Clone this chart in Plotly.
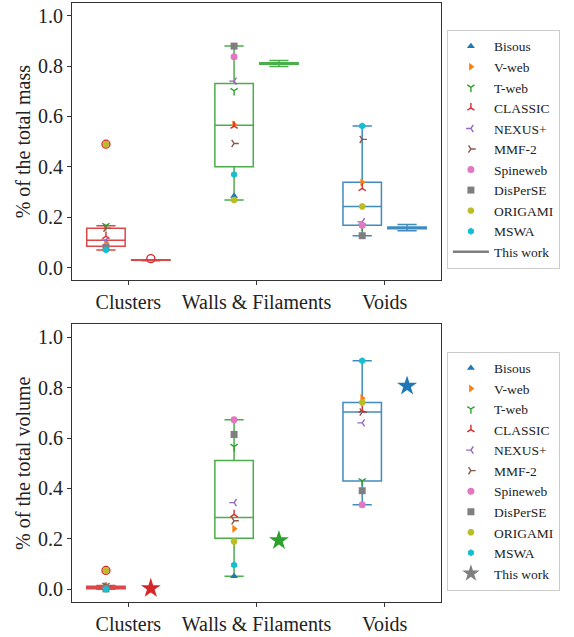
import numpy as np
import plotly.graph_objects as go

# ---------------- data ----------------
categories = ["Clusters", "Walls & Filaments", "Voids"]
methods = ["Bisous", "V-web", "T-web", "CLASSIC", "NEXUS+", "MMF-2",
           "Spineweb", "DisPerSE", "ORIGAMI", "MSWA"]

# fraction of total mass: [Clusters, Walls & Filaments, Voids]
mass_bisous = [None, 0.285, None]
mass_vweb = [0.097, 0.568, 0.339]
mass_tweb = [0.167, 0.702, 0.165]
mass_classic = [0.125, 0.562, 0.315]
mass_nexus = [0.109, 0.740, 0.182]
mass_mmf2 = [0.157, 0.493, 0.509]
mass_spineweb = [0.085, 0.837, 0.168]
mass_disperse = [0.080, 0.879, 0.127]
mass_origami = [0.490, 0.269, 0.243]
mass_mswa = [0.070, 0.370, 0.562]

# fraction of total volume
vol_bisous = [None, 0.052, None]
vol_vweb = [0.005, 0.240, 0.758]
vol_tweb = [0.015, 0.566, 0.430]
vol_classic = [0.009, 0.297, 0.710]
vol_nexus = [0.007, 0.344, 0.660]
vol_mmf2 = [0.012, 0.272, 0.703]
vol_spineweb = [0.003, 0.672, 0.335]
vol_disperse = [0.002, 0.614, 0.391]
vol_origami = [0.075, 0.190, 0.741]
vol_mswa = [0.001, 0.097, 0.906]

# this work (mass): realisations per environment
tw_mass_clusters = [0.028, 0.030, 0.030, 0.031, 0.031, 0.032, 0.036]
tw_mass_walls = [0.798, 0.806, 0.808, 0.810, 0.812, 0.815, 0.822]
tw_mass_voids = [0.147, 0.154, 0.156, 0.158, 0.160, 0.163, 0.171]
# this work (volume)
tw_vol = [0.004, 0.194, 0.806]

mass_data = [mass_bisous, mass_vweb, mass_tweb, mass_classic, mass_nexus,
             mass_mmf2, mass_spineweb, mass_disperse, mass_origami, mass_mswa]
vol_data = [vol_bisous, vol_vweb, vol_tweb, vol_classic, vol_nexus,
            vol_mmf2, vol_spineweb, vol_disperse, vol_origami, vol_mswa]

# ---------------- style ----------------
method_colors = ["#1f77b4", "#ff7f0e", "#2ca02c", "#d62728", "#9467bd",
                 "#8c564b", "#e377c2", "#7f7f7f", "#bcbd22", "#17becf"]
method_symbols = ["triangle-up", "triangle-right", "y-down", "y-up", "y-left",
                  "y-right", "circle", "square", "octagon", "hexagon"]
env_colors = ["#d62728", "#2ca02c", "#1f77b4"]
FONT = "Liberation Serif"
TXT = "#222222"
box_off = -0.175
tw_off = 0.175
box_w = 0.3


def box_stats(vals):
    d = np.array([v for v in vals if v is not None], dtype=float)
    q1, med, q3 = np.percentile(d, [25, 50, 75])
    iqr = q3 - q1
    lo_f, hi_f = q1 - 1.5 * iqr, q3 + 1.5 * iqr
    inside = d[(d >= lo_f) & (d <= hi_f)]
    fliers = d[(d < lo_f) | (d > hi_f)]
    return q1, med, q3, inside.min(), inside.max(), fliers


fig = go.Figure()


def add_box(vals, xpos, color, xa, ya):
    q1, med, q3, lo, hi, fl = box_stats(vals)
    fig.add_trace(go.Box(
        x=[xpos], q1=[q1], median=[med], q3=[q3], lowerfence=[lo], upperfence=[hi],
        width=box_w, whiskerwidth=0.5, boxpoints=False,
        line=dict(color=color, width=1.5), fillcolor="rgba(0,0,0,0)",
        opacity=0.85, showlegend=False, hoverinfo="skip", xaxis=xa, yaxis=ya))
    return fl


def add_panel(data, xa, ya, legend, tw_kind):
    fliers = []
    for j in range(3):
        col = [row[j] for row in data]
        fl = add_box(col, j + box_off, env_colors[j], xa, ya)
        fliers.append((j + box_off, fl, env_colors[j]))
    if tw_kind == "box":
        for j, tw in enumerate([tw_mass_clusters, tw_mass_walls, tw_mass_voids]):
            fl = add_box(tw, j + tw_off, env_colors[j], xa, ya)
            fliers.append((j + tw_off, fl, env_colors[j]))
    # method markers
    for name, vals, c, s in zip(methods, data, method_colors, method_symbols):
        is_line = s.startswith("y-")
        fig.add_trace(go.Scatter(
            x=[j + box_off for j in range(3)], y=vals, mode="markers", name=name,
            marker=dict(symbol=s, color=c, size=7 if not is_line else 6,
                        line=dict(color=c, width=1.4 if is_line else 0)),
            legend=legend, xaxis=xa, yaxis=ya, cliponaxis=False))
    # fliers on top
    for xp, fl, c in fliers:
        if len(fl):
            fig.add_trace(go.Scatter(
                x=[xp] * len(fl), y=list(fl), mode="markers", showlegend=False,
                marker=dict(symbol="circle-open", size=8, color=c, line=dict(width=1.3)),
                xaxis=xa, yaxis=ya, hoverinfo="skip"))
    if tw_kind == "box":
        fig.add_trace(go.Scatter(x=[None], y=[None], mode="lines", name="This work",
                                 line=dict(color="#7f7f7f", width=2.5),
                                 legend=legend, xaxis=xa, yaxis=ya))
    else:
        fig.add_trace(go.Scatter(
            x=[j + tw_off for j in range(3)], y=tw_vol, mode="markers", showlegend=False,
            marker=dict(symbol="star", size=15, color=env_colors, line=dict(width=0)),
            xaxis=xa, yaxis=ya))
        fig.add_trace(go.Scatter(x=[None], y=[None], mode="markers", name="This work",
                                 marker=dict(symbol="star", size=13, color="#7f7f7f"),
                                 legend=legend, xaxis=xa, yaxis=ya))


add_panel(mass_data, "x", "y", "legend", "box")
add_panel(vol_data, "x2", "y2", "legend2", "star")

axis_common = dict(showline=True, mirror=True, linecolor="#333333", linewidth=1,
                   ticks="outside", ticklen=4, tickcolor="#333333", showgrid=False,
                   zeroline=False, tickfont=dict(family=FONT, size=20, color=TXT))
xcommon = dict(axis_common, range=[-0.44, 2.44], tickvals=[0, 1, 2], ticktext=categories)
ycommon = dict(axis_common, range=[-0.05, 1.05], dtick=0.2, tick0=0, tickformat=".1f")

legend_common = dict(font=dict(family=FONT, size=13.5, color=TXT), bgcolor="white",
                     bordercolor="#cccccc", borderwidth=1, xanchor="left", yanchor="top",
                     tracegroupgap=0, itemwidth=36)

fig.update_layout(
    width=574, height=637,
    margin=dict(l=72, r=133, t=2, b=30),
    plot_bgcolor="white", paper_bgcolor="white",
    font=dict(family=FONT, color=TXT),
    xaxis=dict(xcommon, anchor="y", domain=[0, 1]),
    yaxis=dict(ycommon, anchor="x", domain=[0.537, 1.0],
               title=dict(text="% of the total mass", font=dict(family=FONT, size=20, color=TXT),
                          standoff=1)),
    xaxis2=dict(xcommon, anchor="y2", domain=[0, 1]),
    yaxis2=dict(ycommon, anchor="x2", domain=[0.0, 0.4633],
                title=dict(text="% of the total volume", font=dict(family=FONT, size=20, color=TXT),
                           standoff=1)),
    legend=dict(legend_common, x=1.016, y=0.955),
    legend2=dict(legend_common, x=1.016, y=0.418),
    boxmode="overlay",
)

fig.write_html("out.html")
